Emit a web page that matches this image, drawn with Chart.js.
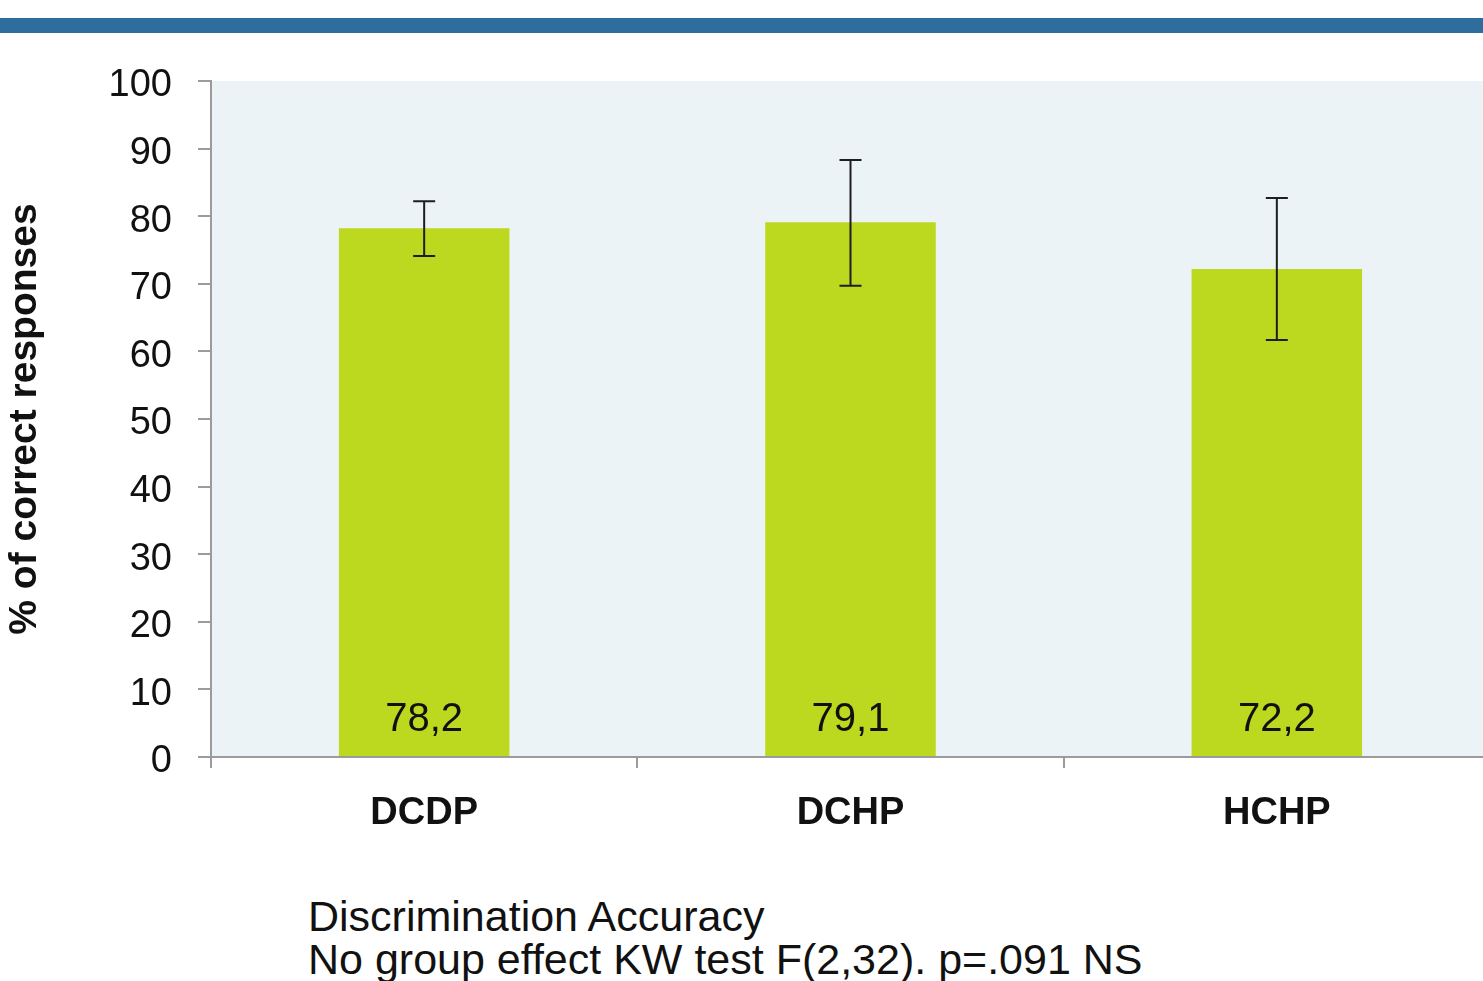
<!DOCTYPE html>
<html lang="en">
<head>
<meta charset="utf-8"/>
<title>Discrimination Accuracy</title>
<script src="https://cdn.jsdelivr.net/npm/chart.js"></script>
<style>
body {
  margin: 0;
  background-color: #ffffff;
  width: 1483px;
  height: 981px;
  overflow: hidden;
  position: relative;
  font-family: 'Liberation Sans', Arial, sans-serif;
}
.top-band {
  position: absolute;
  left: 0;
  top: 18px;
  width: 1483px;
  height: 15px;
  background-color: #2E6E9E;
}
.chart-box {
  position: absolute;
  left: 0;
  top: 0;
}
.note {
  position: absolute;
  left: 308px;
  top: 895px;
  font-size: 43px;
  line-height: 43px;
  color: #111;
  white-space: nowrap;
}
</style>
</head>
<body>
<div class="top-band"></div>
<div class="chart-box">
  <canvas id="accChart" width="1490" height="860"></canvas>
</div>
<div class="note">Discrimination Accuracy<br/>No group effect KW test F(2,32). p=.091 NS</div>
<script>
const categories = ["DCDP", "DCHP", "HCHP"];
const meanValues = [78.2, 79.1, 72.2];
const valueLabels = ["78,2", "79,1", "72,2"];
const errLow = [74.1, 69.7, 61.7];
const errHigh = [82.2, 88.3, 82.7];
const yTickValues = [0, 10, 20, 30, 40, 50, 60, 70, 80, 90, 100];

const axisGrey = "#9b9b9b";
const barGreen = "#BCD91F";
const plotBg = "#EBF3F7";

// plot area background
const plotBackground = {
  id: "plotBackground",
  beforeDraw(chart) {
    const { ctx, chartArea } = chart;
    ctx.save();
    ctx.fillStyle = plotBg;
    ctx.fillRect(chartArea.left, chartArea.top, chartArea.right - chartArea.left, chartArea.bottom - chartArea.top);
    ctx.restore();
  }
};

// error bars + value labels inside the bars
const barExtras = {
  id: "barExtras",
  afterDatasetsDraw(chart) {
    const { ctx } = chart;
    const yScale = chart.scales.y;
    const meta = chart.getDatasetMeta(0);
    ctx.save();
    meta.data.forEach((bar, i) => {
      const x = bar.x;
      const yHi = yScale.getPixelForValue(errHigh[i]);
      const yLo = yScale.getPixelForValue(errLow[i]);
      ctx.strokeStyle = "#1e1e1e";
      ctx.lineWidth = 2;
      ctx.beginPath();
      ctx.moveTo(x, yHi);
      ctx.lineTo(x, yLo);
      ctx.moveTo(x - 11, yHi);
      ctx.lineTo(x + 11, yHi);
      ctx.moveTo(x - 11, yLo);
      ctx.lineTo(x + 11, yLo);
      ctx.stroke();

      ctx.fillStyle = "#111";
      ctx.font = "40px 'Liberation Sans', Arial, sans-serif";
      ctx.textAlign = "center";
      ctx.textBaseline = "alphabetic";
      ctx.fillText(valueLabels[i], x, yScale.getPixelForValue(0) - 26);
    });
    ctx.restore();
  }
};

new Chart(document.getElementById("accChart"), {
  type: "bar",
  data: {
    labels: categories,
    datasets: [{
      data: meanValues,
      backgroundColor: barGreen,
      borderWidth: 0,
      barPercentage: 0.4,
      categoryPercentage: 1.0
    }]
  },
  options: {
    responsive: false,
    animation: false,
    layout: { padding: { top: 81, left: 0, right: 0, bottom: 0 } },
    plugins: {
      legend: { display: false },
      tooltip: { enabled: false }
    },
    scales: {
      x: {
        offset: true,
        grid: { offset: true, drawOnChartArea: false, tickLength: 11, color: axisGrey, lineWidth: 2 },
        border: { color: axisGrey, width: 2 },
        ticks: {
          color: "#111",
          padding: 23,
          font: { family: "'Liberation Sans', Arial, sans-serif", size: 38, weight: "bold" }
        },
        afterFit(scale) { scale.height = 103; }
      },
      y: {
        min: 0,
        max: 100,
        afterBuildTicks(scale) { scale.ticks = yTickValues.map(v => ({ value: v })); },
        grid: { drawOnChartArea: false, tickLength: 13, color: axisGrey, lineWidth: 2 },
        border: { color: axisGrey, width: 2 },
        ticks: {
          color: "#111",
          padding: 26,
          labelOffset: 5,
          font: { family: "'Liberation Sans', Arial, sans-serif", size: 38 }
        },
        title: {
          display: true,
          text: "% of correct responses",
          color: "#111",
          padding: { top: 2, bottom: 0 },
          font: { family: "'Liberation Sans', Arial, sans-serif", size: 39, weight: "bold" }
        },
        afterFit(scale) { scale.width = 211; }
      }
    }
  },
  plugins: [plotBackground, barExtras]
});
</script>
</body>
</html>
